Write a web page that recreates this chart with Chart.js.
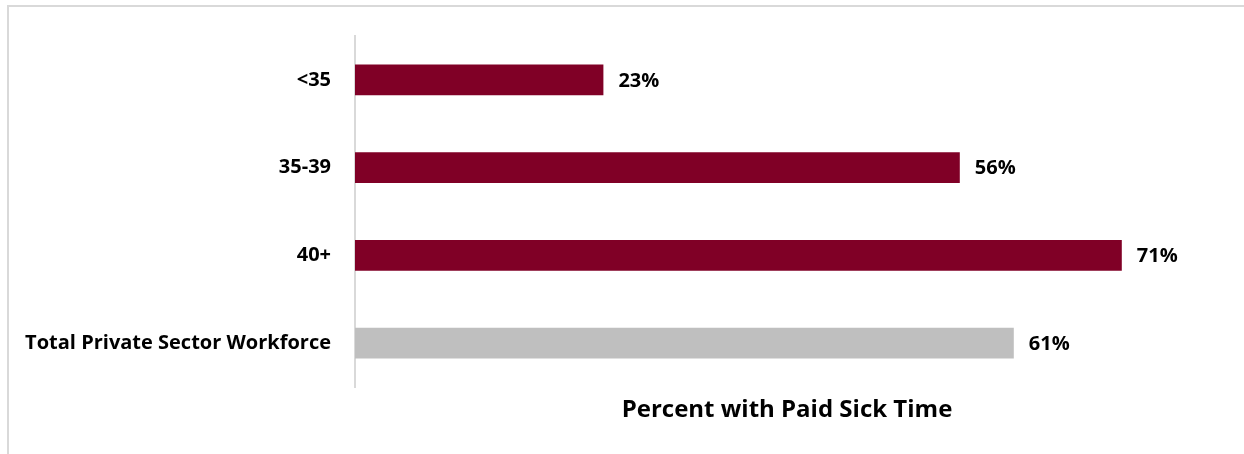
<!DOCTYPE html>
<html>
<head>
<meta charset="utf-8">
<script src="https://cdn.jsdelivr.net/npm/chart.js@4.4.1/dist/chart.umd.min.js"></script>
<style>
  html, body { margin: 0; padding: 0; background: #fff; }
  #wrap { position: relative; width: 1244px; height: 454px; overflow: hidden; }
  #frame {
    position: absolute; left: 7px; top: 5px; width: 1300px; height: 500px;
    border-left: 2px solid #d9d9d9; border-top: 2px solid #d9d9d9; box-sizing: border-box;
  }
  #chart { position: absolute; left: 0; top: 0; }
</style>
</head>
<body>
<div id="wrap">
  <div id="frame"></div>
  <canvas id="chart" width="1244" height="454"></canvas>
</div>
<script>
// Share of workers with paid sick time, by group
const groups = ['<35', '35-39', '40+', 'Total Private Sector Workforce'];
const percentWithSickTime = [23, 56, 71, 61];
const barColors = ['#800026', '#800026', '#800026', '#bfbfbf'];
const axisTitle = 'Percent with Paid Sick Time';

const labelFont = { family: 'Open Sans', size: 20, weight: 'bold' };

// writes the value next to the end of each bar
const valueLabels = {
    id: 'valueLabels',
    afterDatasetsDraw(chart) {
        const ctx = chart.ctx;
        const meta = chart.getDatasetMeta(0);
        ctx.save();
        ctx.font = `bold ${labelFont.size}px ${labelFont.family}`;
        ctx.fillStyle = '#000';
        ctx.textAlign = 'left';
        ctx.textBaseline = 'middle';
        meta.data.forEach((bar, i) => {
            ctx.fillText(percentWithSickTime[i] + '%', bar.x + 15, bar.y + 1);
        });
        ctx.restore();
    }
};

new Chart(document.getElementById('chart'), {
    type: 'bar',
    data: {
        labels: groups,
        datasets: [{
            data: percentWithSickTime,
            backgroundColor: barColors,
            borderWidth: 0,
            categoryPercentage: 1,
            barPercentage: 0.35
        }]
    },
    options: {
        indexAxis: 'y',
        responsive: false,
        animation: false,
        layout: { padding: { top: 35, right: 25, left: 0, bottom: 0 } },
        plugins: {
            legend: { display: false },
            tooltip: { enabled: false }
        },
        scales: {
            x: {
                min: 0,
                max: 80,
                grid: { display: false, drawTicks: false },
                border: { display: false },
                ticks: { display: false },
                title: {
                    display: true,
                    text: axisTitle,
                    color: '#000',
                    font: { family: 'Open Sans', size: 24, weight: 'bold' },
                    padding: { top: 0, bottom: 29 }
                },
                afterFit(scale) { scale.height = 67; }
            },
            y: {
                grid: { display: false, drawTicks: false },
                border: { display: true, color: '#d9d9d9', width: 2 },
                ticks: {
                    color: '#000',
                    font: labelFont,
                    padding: 24
                },
                afterFit(scale) { scale.width = 355; }
            }
        }
    },
    plugins: [valueLabels]
});
</script>
</body>
</html>
